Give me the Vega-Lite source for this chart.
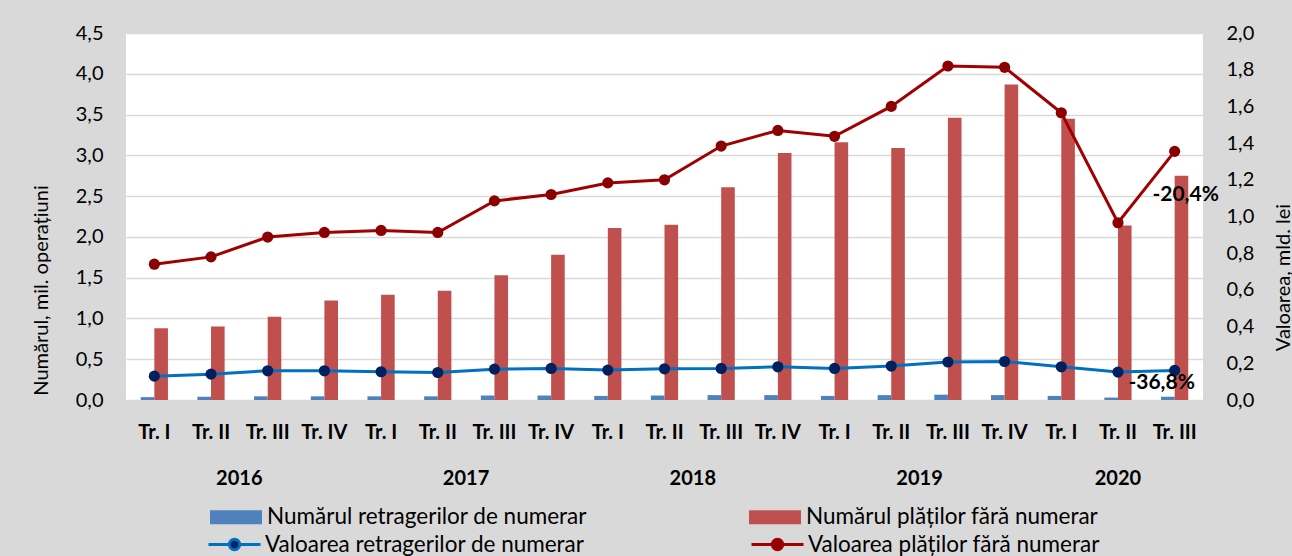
{
  "$schema": "https://vega.github.io/schema/vega-lite/v6.json",
  "width": 1077,
  "height": 367,
  "autosize": {"type": "none"},
  "padding": {"left": 126, "top": 33, "right": 89, "bottom": 156},
  "background": "#d9d9d9",
  "config": {
    "view": {"fill": "white", "stroke": null},
    "font": "Lato",
    "axis": {"labelColor": "black", "titleColor": "black", "labelFont": "Lato", "titleFont": "Lato"},
    "legend": {"labelColor": "black", "labelFont": "Lato"}
  },
  "data": {
    "values": [
      {"q": "2016 Tr. I", "s": "Numărul retragerilor de numerar", "v": 0.035},
      {"q": "2016 Tr. II", "s": "Numărul retragerilor de numerar", "v": 0.04},
      {"q": "2016 Tr. III", "s": "Numărul retragerilor de numerar", "v": 0.045},
      {"q": "2016 Tr. IV", "s": "Numărul retragerilor de numerar", "v": 0.045},
      {"q": "2017 Tr. I", "s": "Numărul retragerilor de numerar", "v": 0.045},
      {"q": "2017 Tr. II", "s": "Numărul retragerilor de numerar", "v": 0.045},
      {"q": "2017 Tr. III", "s": "Numărul retragerilor de numerar", "v": 0.055},
      {"q": "2017 Tr. IV", "s": "Numărul retragerilor de numerar", "v": 0.055},
      {"q": "2018 Tr. I", "s": "Numărul retragerilor de numerar", "v": 0.05},
      {"q": "2018 Tr. II", "s": "Numărul retragerilor de numerar", "v": 0.055},
      {"q": "2018 Tr. III", "s": "Numărul retragerilor de numerar", "v": 0.06},
      {"q": "2018 Tr. IV", "s": "Numărul retragerilor de numerar", "v": 0.06},
      {"q": "2019 Tr. I", "s": "Numărul retragerilor de numerar", "v": 0.05},
      {"q": "2019 Tr. II", "s": "Numărul retragerilor de numerar", "v": 0.06},
      {"q": "2019 Tr. III", "s": "Numărul retragerilor de numerar", "v": 0.065},
      {"q": "2019 Tr. IV", "s": "Numărul retragerilor de numerar", "v": 0.06},
      {"q": "2020 Tr. I", "s": "Numărul retragerilor de numerar", "v": 0.05},
      {"q": "2020 Tr. II", "s": "Numărul retragerilor de numerar", "v": 0.03},
      {"q": "2020 Tr. III", "s": "Numărul retragerilor de numerar", "v": 0.04},
      {"q": "2016 Tr. I", "s": "Numărul plăților fără numerar", "v": 0.88},
      {"q": "2016 Tr. II", "s": "Numărul plăților fără numerar", "v": 0.9},
      {"q": "2016 Tr. III", "s": "Numărul plăților fără numerar", "v": 1.02},
      {"q": "2016 Tr. IV", "s": "Numărul plăților fără numerar", "v": 1.22},
      {"q": "2017 Tr. I", "s": "Numărul plăților fără numerar", "v": 1.29},
      {"q": "2017 Tr. II", "s": "Numărul plăților fără numerar", "v": 1.34},
      {"q": "2017 Tr. III", "s": "Numărul plăților fără numerar", "v": 1.53},
      {"q": "2017 Tr. IV", "s": "Numărul plăților fără numerar", "v": 1.78},
      {"q": "2018 Tr. I", "s": "Numărul plăților fără numerar", "v": 2.11},
      {"q": "2018 Tr. II", "s": "Numărul plăților fără numerar", "v": 2.15},
      {"q": "2018 Tr. III", "s": "Numărul plăților fără numerar", "v": 2.61},
      {"q": "2018 Tr. IV", "s": "Numărul plăților fără numerar", "v": 3.03},
      {"q": "2019 Tr. I", "s": "Numărul plăților fără numerar", "v": 3.16},
      {"q": "2019 Tr. II", "s": "Numărul plăților fără numerar", "v": 3.09},
      {"q": "2019 Tr. III", "s": "Numărul plăților fără numerar", "v": 3.46},
      {"q": "2019 Tr. IV", "s": "Numărul plăților fără numerar", "v": 3.87},
      {"q": "2020 Tr. I", "s": "Numărul plăților fără numerar", "v": 3.45},
      {"q": "2020 Tr. II", "s": "Numărul plăților fără numerar", "v": 2.14},
      {"q": "2020 Tr. III", "s": "Numărul plăților fără numerar", "v": 2.75},
      {"q": "2016 Tr. I", "s": "Valoarea retragerilor de numerar", "v": 0.13},
      {"q": "2016 Tr. II", "s": "Valoarea retragerilor de numerar", "v": 0.141},
      {"q": "2016 Tr. III", "s": "Valoarea retragerilor de numerar", "v": 0.159},
      {"q": "2016 Tr. IV", "s": "Valoarea retragerilor de numerar", "v": 0.159},
      {"q": "2017 Tr. I", "s": "Valoarea retragerilor de numerar", "v": 0.154},
      {"q": "2017 Tr. II", "s": "Valoarea retragerilor de numerar", "v": 0.15},
      {"q": "2017 Tr. III", "s": "Valoarea retragerilor de numerar", "v": 0.168},
      {"q": "2017 Tr. IV", "s": "Valoarea retragerilor de numerar", "v": 0.172},
      {"q": "2018 Tr. I", "s": "Valoarea retragerilor de numerar", "v": 0.163},
      {"q": "2018 Tr. II", "s": "Valoarea retragerilor de numerar", "v": 0.17},
      {"q": "2018 Tr. III", "s": "Valoarea retragerilor de numerar", "v": 0.172},
      {"q": "2018 Tr. IV", "s": "Valoarea retragerilor de numerar", "v": 0.181},
      {"q": "2019 Tr. I", "s": "Valoarea retragerilor de numerar", "v": 0.172},
      {"q": "2019 Tr. II", "s": "Valoarea retragerilor de numerar", "v": 0.185},
      {"q": "2019 Tr. III", "s": "Valoarea retragerilor de numerar", "v": 0.207},
      {"q": "2019 Tr. IV", "s": "Valoarea retragerilor de numerar", "v": 0.21},
      {"q": "2020 Tr. I", "s": "Valoarea retragerilor de numerar", "v": 0.181},
      {"q": "2020 Tr. II", "s": "Valoarea retragerilor de numerar", "v": 0.152},
      {"q": "2020 Tr. III", "s": "Valoarea retragerilor de numerar", "v": 0.161, "lbl": "-36,8%"},
      {"q": "2016 Tr. I", "s": "Valoarea plăților fără numerar", "v": 0.74},
      {"q": "2016 Tr. II", "s": "Valoarea plăților fără numerar", "v": 0.78},
      {"q": "2016 Tr. III", "s": "Valoarea plăților fără numerar", "v": 0.888},
      {"q": "2016 Tr. IV", "s": "Valoarea plăților fără numerar", "v": 0.913},
      {"q": "2017 Tr. I", "s": "Valoarea plăților fără numerar", "v": 0.924},
      {"q": "2017 Tr. II", "s": "Valoarea plăților fără numerar", "v": 0.913},
      {"q": "2017 Tr. III", "s": "Valoarea plăților fără numerar", "v": 1.085},
      {"q": "2017 Tr. IV", "s": "Valoarea plăților fără numerar", "v": 1.12},
      {"q": "2018 Tr. I", "s": "Valoarea plăților fără numerar", "v": 1.183},
      {"q": "2018 Tr. II", "s": "Valoarea plăților fără numerar", "v": 1.2},
      {"q": "2018 Tr. III", "s": "Valoarea plăților fără numerar", "v": 1.384},
      {"q": "2018 Tr. IV", "s": "Valoarea plăților fără numerar", "v": 1.469},
      {"q": "2019 Tr. I", "s": "Valoarea plăților fără numerar", "v": 1.437},
      {"q": "2019 Tr. II", "s": "Valoarea plăților fără numerar", "v": 1.6},
      {"q": "2019 Tr. III", "s": "Valoarea plăților fără numerar", "v": 1.82},
      {"q": "2019 Tr. IV", "s": "Valoarea plăților fără numerar", "v": 1.813},
      {"q": "2020 Tr. I", "s": "Valoarea plăților fără numerar", "v": 1.565},
      {"q": "2020 Tr. II", "s": "Valoarea plăților fără numerar", "v": 0.966},
      {"q": "2020 Tr. III", "s": "Valoarea plăților fără numerar", "v": 1.355, "lbl": "-20,4%"}
    ]
  },
  "layer": [
    {
      "transform": [{"filter": {"field": "s", "oneOf": ["Numărul retragerilor de numerar", "Numărul plăților fără numerar"]}}],
      "mark": {"type": "bar"},
      "encoding": {
        "x": {
          "field": "q", "type": "nominal",
          "scale": {
            "domain": ["2016 Tr. I","2016 Tr. II","2016 Tr. III","2016 Tr. IV","2017 Tr. I","2017 Tr. II","2017 Tr. III","2017 Tr. IV","2018 Tr. I","2018 Tr. II","2018 Tr. III","2018 Tr. IV","2019 Tr. I","2019 Tr. II","2019 Tr. III","2019 Tr. IV","2020 Tr. I","2020 Tr. II","2020 Tr. III"],
            "paddingInner": 0.52, "paddingOuter": 0.26
          },
          "axis": {
            "orient": "bottom", "title": null, "labelExpr": "substring(datum.value, 5)",
            "labelFontWeight": "bold", "labelFontSize": 20, "labelAngle": 0, "labelPadding": 22,
            "ticks": false, "tickSize": 0, "domain": false, "grid": false
          }
        },
        "xOffset": {"field": "s", "scale": {"domain": ["Numărul retragerilor de numerar", "Numărul plăților fără numerar"], "paddingInner": 0, "paddingOuter": 0}},
        "y": {
          "field": "v", "type": "quantitative",
          "scale": {"domain": [0, 4.5], "nice": false},
          "axis": {
            "orient": "left", "title": "Numărul, mil. operațiuni",
            "values": [0, 0.5, 1, 1.5, 2, 2.5, 3, 3.5, 4, 4.5],
            "labelExpr": "replace(format(datum.value, '.1f'), '.', ',')",
            "labelFontSize": 20, "labelPadding": 23, "ticks": false, "tickSize": 0, "domain": false,
            "grid": true, "gridColor": "#d9d9d9", "gridWidth": 1.5,
            "titleFontSize": 20, "titleFontWeight": "normal", "titleX": -85, "titleY": 257,
            "titleAngle": 270, "titleAlign": "center", "titleBaseline": "middle"
          }
        },
        "color": {
          "field": "s", "type": "nominal",
          "scale": {"domain": ["Numărul retragerilor de numerar", "Numărul plăților fără numerar"], "range": ["#4F81BD", "#C0504D"]},
          "legend": {
            "orient": "none", "legendX": 84, "legendY": 458, "direction": "horizontal", "columns": 2,
            "columnPadding": 162, "title": null, "labelFontSize": 22.5, "labelLimit": 600, "labelOffset": 5,
            "padding": 0, "symbolType": "M-1,-0.27L1,-0.27L1,0.27L-1,0.27Z", "symbolSize": 2704,
            "symbolStrokeWidth": 0, "symbolOpacity": 1
          }
        }
      }
    },
    {
      "transform": [{"filter": {"field": "s", "oneOf": ["Valoarea retragerilor de numerar", "Valoarea plăților fără numerar"]}}],
      "mark": {"type": "line", "strokeWidth": 3},
      "encoding": {
        "x": {"field": "q", "type": "nominal", "axis": null},
        "y": {
          "field": "v", "type": "quantitative",
          "scale": {"domain": [0, 2], "nice": false},
          "axis": {
            "orient": "right", "title": "Valoarea, mld. lei",
            "values": [0, 0.2, 0.4, 0.6, 0.8, 1, 1.2, 1.4, 1.6, 1.8, 2],
            "labelExpr": "replace(format(datum.value, '.1f'), '.', ',')",
            "labelFontSize": 20, "labelPadding": 23, "ticks": false, "tickSize": 0, "domain": false, "grid": false,
            "titleFontSize": 20, "titleFontWeight": "normal", "titleX": 80, "titleY": 244,
            "titleAngle": 270, "titleAlign": "center", "titleBaseline": "middle"
          }
        },
        "stroke": {
          "field": "s", "type": "nominal",
          "scale": {"domain": ["Valoarea retragerilor de numerar", "Valoarea plăților fără numerar"], "range": ["#0070C0", "#A00000"]},
          "legend": {
            "orient": "none", "legendX": 81, "legendY": 484, "direction": "horizontal", "columns": 2,
            "columnPadding": 160, "title": null, "labelFontSize": 22.5, "labelLimit": 600, "labelOffset": 3,
            "padding": 0,
            "symbolType": "M-1,0L-0.22,0M0.22,0L1,0M-0.2,0A0.2,0.2,0,1,0,0.2,0A0.2,0.2,0,1,0,-0.2,0Z",
            "symbolSize": 2704, "symbolStrokeWidth": 3,
            "encode": {"symbols": {"update": {
              "fill": {"signal": "datum.value === 'Valoarea retragerilor de numerar' ? '#002060' : '#8B0000'"},
              "fillOpacity": {"value": 1}, "strokeOpacity": {"value": 1}
            }}}
          }
        }
      }
    },
    {
      "transform": [{"filter": {"field": "s", "oneOf": ["Valoarea retragerilor de numerar", "Valoarea plăților fără numerar"]}}],
      "mark": {"type": "point", "shape": "circle", "filled": true, "size": 125, "opacity": 1, "strokeWidth": 0},
      "encoding": {
        "x": {
          "field": "q", "type": "nominal",
          "axis": {
            "orient": "bottom", "title": null,
            "values": ["2016 Tr. II", "2017 Tr. II", "2018 Tr. II", "2019 Tr. II", "2020 Tr. II"],
            "labelExpr": "substring(datum.value, 0, 4)",
            "labelOffset": {"condition": {"test": "datum.value === '2020 Tr. II'", "value": 0}, "value": 28.3},
            "labelFontWeight": "bold", "labelFontSize": 20, "labelAngle": 0, "labelPadding": 68,
            "ticks": false, "tickSize": 0, "domain": false, "grid": false
          }
        },
        "y": {"field": "v", "type": "quantitative", "scale": {"domain": [0, 2], "nice": false}, "axis": null},
        "fill": {
          "field": "s", "type": "nominal",
          "scale": {"domain": ["Valoarea retragerilor de numerar", "Valoarea plăților fără numerar"], "range": ["#002060", "#8B0000"]},
          "legend": null
        }
      }
    },
    {
      "transform": [{"filter": {"field": "lbl", "equal": "-20,4%"}}],
      "mark": {"type": "text", "fontWeight": "bold", "fontSize": 21, "dx": 11, "dy": 44, "align": "center", "baseline": "middle", "color": "black"},
      "encoding": {
        "x": {"field": "q", "type": "nominal", "axis": null},
        "y": {"field": "v", "type": "quantitative", "scale": {"domain": [0, 2], "nice": false}, "axis": null},
        "text": {"field": "lbl"}
      }
    },
    {
      "transform": [{"filter": {"field": "lbl", "equal": "-36,8%"}}],
      "mark": {"type": "text", "fontWeight": "bold", "fontSize": 21, "dx": -13, "dy": 13, "align": "center", "baseline": "middle", "color": "black"},
      "encoding": {
        "x": {"field": "q", "type": "nominal", "axis": null},
        "y": {"field": "v", "type": "quantitative", "scale": {"domain": [0, 2], "nice": false}, "axis": null},
        "text": {"field": "lbl"}
      }
    }
  ],
  "resolve": {"scale": {"y": "independent"}, "axis": {"x": "independent"}}
}
